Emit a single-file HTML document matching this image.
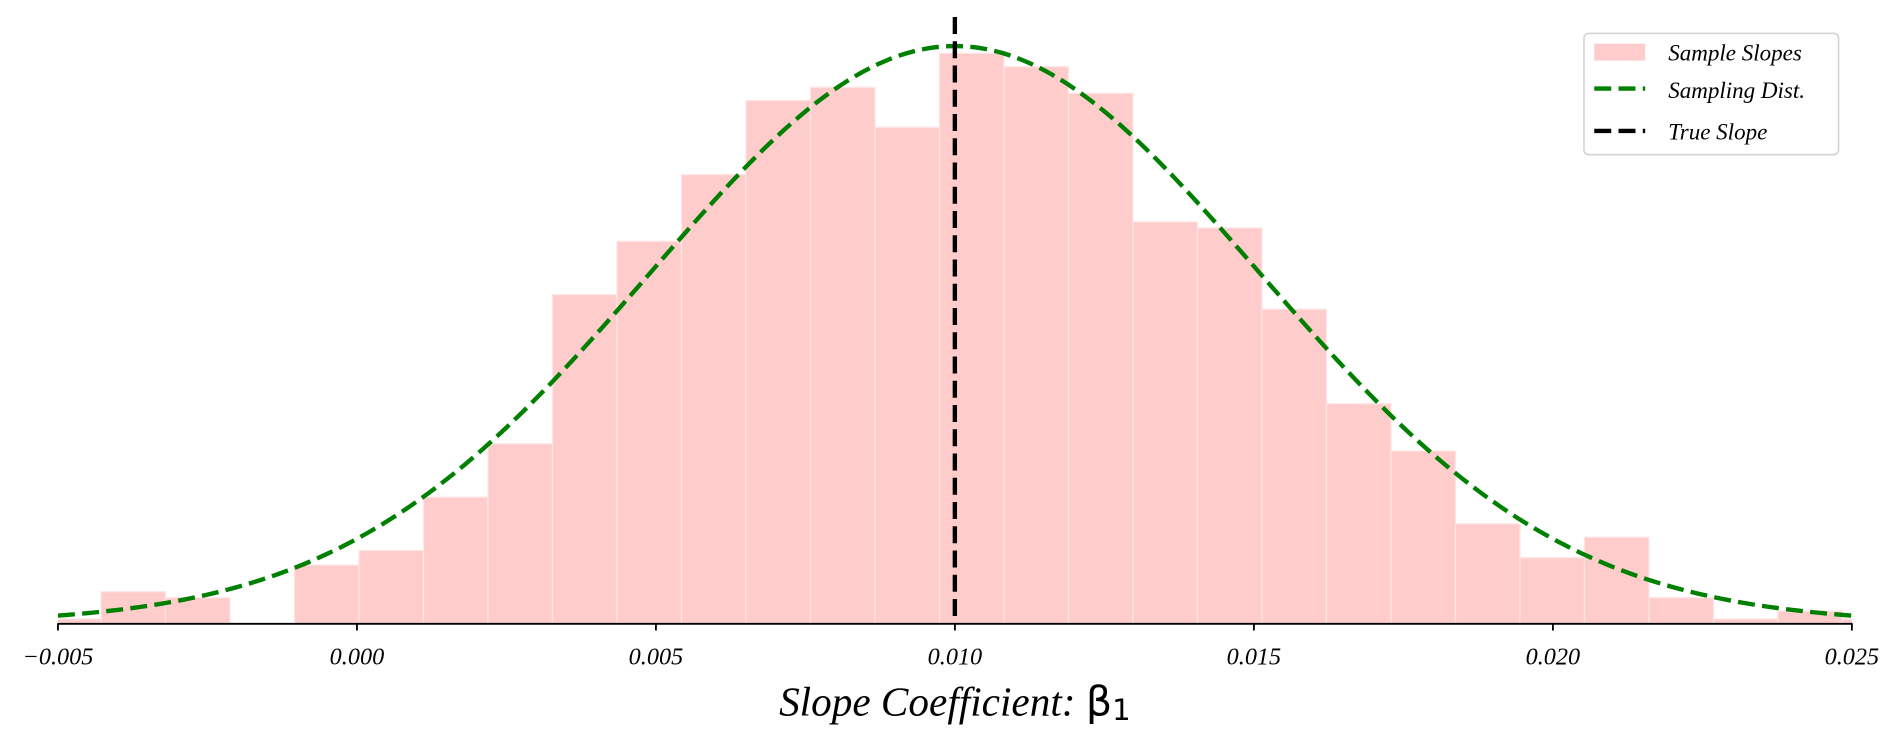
<!DOCTYPE html>
<html><head><meta charset="utf-8"><style>
html,body{margin:0;padding:0;background:#fff;width:1901px;height:744px;overflow:hidden}
svg{display:block}
text{font-family:"Liberation Serif",serif;font-style:italic;fill:#000}
</style></head><body>
<svg id="s" width="1901" height="744" viewBox="0 0 1568 613.6" preserveAspectRatio="none">
<defs><clipPath id="c"><rect x="47.8" y="0" width="1479.7" height="514"/></clipPath></defs>
<g id="bars" clip-path="url(#c)" fill="#ffcccc" stroke="#ffe4e4" stroke-width="1"></g>
<path id="curve" fill="none" stroke="#008000" stroke-width="3.6" stroke-dasharray="14,6" clip-path="url(#c)"/>
<line x1="787.6" y1="14" x2="787.6" y2="514" stroke="#000" stroke-width="3.6" stroke-dasharray="14,6"/>
<line x1="47.8" y1="514.5" x2="1527.5" y2="514.5" stroke="#000" stroke-width="1.5"/>
<g id="ticks"></g>
<text x="787.6" y="590" font-size="34" text-anchor="middle">Slope Coefficient: <tspan font-family="DejaVu Sans" font-style="normal">β</tspan><tspan font-family="DejaVu Sans" font-style="normal" font-size="24" dy="4">1</tspan></text>
<rect x="1306.5" y="27.5" width="210" height="100" rx="4" fill="#fff" stroke="#d0d0d0" stroke-width="1.2"/>
<rect x="1315" y="36" width="42" height="14" fill="#ffcccc"/>
<line x1="1315" y1="73" x2="1357" y2="73" stroke="#008000" stroke-width="3.6" stroke-dasharray="14,6"/>
<line x1="1315" y1="108" x2="1357" y2="108" stroke="#000" stroke-width="3.6" stroke-dasharray="14,6"/>
<text x="1376" y="50" font-size="19">Sample Slopes</text>
<text x="1376" y="81" font-size="19">Sampling Dist.</text>
<text x="1376" y="115" font-size="19">True Slope</text>
</svg>
<script>
var ns="http://www.w3.org/2000/svg";
var tops=[510.5,488,493,null,466,454,410,366,243,199,144,83,72,105,44,55,77,183,188,255,333,372,432,460,443,493,510.5,504,510.5];
var g=document.getElementById("bars");
for(var i=0;i<tops.length;i++){if(tops[i]==null)continue;var x=30.1+53.2*i;
var r=document.createElementNS(ns,"rect");r.setAttribute("x",x);r.setAttribute("y",tops[i]);r.setAttribute("width",53.2);r.setAttribute("height",514-tops[i]);g.appendChild(r);}
function px(v){return 47.8+(v+0.005)/0.03*1479.7;}
var d="",sig=0.0051;
for(var k=0;k<=300;k++){var v=-0.005+0.03*k/300;var y=514-476*Math.exp(-Math.pow(v-0.01,2)/(2*sig*sig));d+=(k?"L":"M")+px(v).toFixed(2)+","+y.toFixed(2);}
document.getElementById("curve").setAttribute("d",d);
var t=document.getElementById("ticks");var labs=["\u22120.005","0.000","0.005","0.010","0.015","0.020","0.025"];
for(var j=0;j<7;j++){var x=px(-0.005+0.005*j);
var l=document.createElementNS(ns,"line");l.setAttribute("x1",x);l.setAttribute("x2",x);l.setAttribute("y1",514);l.setAttribute("y2",520);l.setAttribute("stroke","#000");l.setAttribute("stroke-width","1.5");t.appendChild(l);
var tx=document.createElementNS(ns,"text");tx.setAttribute("x",x);tx.setAttribute("y",548);tx.setAttribute("font-size","20");tx.setAttribute("text-anchor","middle");tx.textContent=labs[j];t.appendChild(tx);}
</script>
</body></html>
